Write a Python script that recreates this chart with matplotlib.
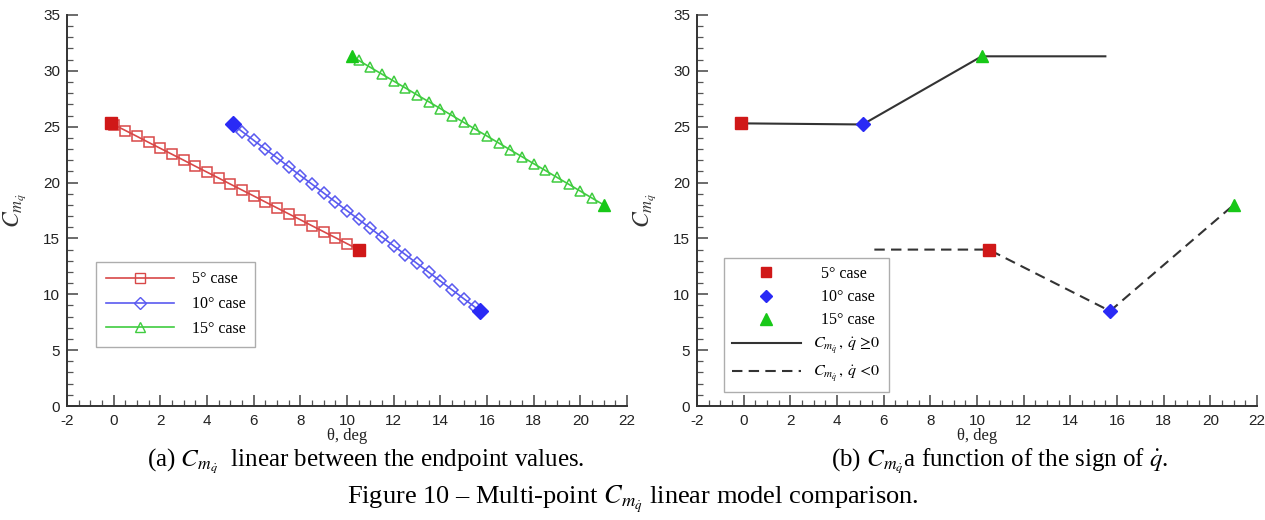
import matplotlib
matplotlib.use("Agg")
import matplotlib.pyplot as plt
from matplotlib.ticker import MultipleLocator
from matplotlib.lines import Line2D

plt.rcParams['mathtext.fontset'] = 'stix'
plt.rcParams['axes.unicode_minus'] = False

# ---------------- data ----------------
# (a) linear between endpoint values
red_end_theta = [-0.1, 10.5]
red_end_cmq = [25.3, 14.0]
red_theta = [0.0, 0.5, 1.0, 1.5, 2.0, 2.5, 3.0, 3.5, 4.0, 4.5, 5.0, 5.5, 6.0, 6.5,
             7.0, 7.5, 8.0, 8.5, 9.0, 9.5, 10.0]
red_cmq = [25.19, 24.66, 24.13, 23.59, 23.06, 22.53, 22.00, 21.46, 20.93, 20.40,
           19.86, 19.33, 18.80, 18.26, 17.73, 17.20, 16.67, 16.13, 15.60, 15.07, 14.53]

blue_end_theta = [5.1, 15.7]
blue_end_cmq = [25.2, 8.5]
blue_theta = [5.5, 6.0, 6.5, 7.0, 7.5, 8.0, 8.5, 9.0, 9.5, 10.0, 10.5, 11.0, 11.5,
              12.0, 12.5, 13.0, 13.5, 14.0, 14.5, 15.0, 15.5]
blue_cmq = [24.57, 23.78, 22.99, 22.21, 21.42, 20.63, 19.85, 19.06, 18.27, 17.48,
            16.70, 15.91, 15.12, 14.33, 13.55, 12.76, 11.97, 11.19, 10.40, 9.61, 8.82]

green_end_theta = [10.2, 21.0]
green_end_cmq = [31.3, 18.0]
green_theta = [10.5, 11.0, 11.5, 12.0, 12.5, 13.0, 13.5, 14.0, 14.5, 15.0, 15.5,
               16.0, 16.5, 17.0, 17.5, 18.0, 18.5, 19.0, 19.5, 20.0, 20.5]
green_cmq = [30.93, 30.31, 29.70, 29.08, 28.47, 27.85, 27.24, 26.62, 26.00, 25.39,
             24.77, 24.16, 23.54, 22.92, 22.31, 21.69, 21.08, 20.46, 19.85, 19.23, 18.61]

# (b) function of the sign of q-dot
pos_theta = [-0.1, 5.1, 10.2, 15.5]
pos_cmq = [25.3, 25.2, 31.3, 31.3]
neg_theta = [5.6, 10.5, 15.7, 21.0]
neg_cmq = [14.0, 14.0, 8.5, 18.0]

case_labels = ['5° case', '10° case', '15° case']
pos_label = r'$C_{m_{\dot{q}}}\,,\,\dot{q}\,\geq\!0$'
neg_label = r'$C_{m_{\dot{q}}}\,,\,\dot{q}\,<\!0$'

xticks = [-2, 0, 2, 4, 6, 8, 10, 12, 14, 16, 18, 20, 22]
yticks = [0, 5, 10, 15, 20, 25, 30, 35]

# ---------------- style ----------------
c_red, c_blue, c_green = '#d01818', '#2a2af5', '#18c818'
l_red, l_blue, l_green = '#d84848', '#5a5af0', '#40cc40'

fig = plt.figure(figsize=(12.65, 5.2), dpi=100)
ax1 = fig.add_axes([0.053, 0.2192, 0.4427, 0.752])
ax2 = fig.add_axes([0.551, 0.2192, 0.4427, 0.752])

def style_axes(ax):
    ax.set_xlim(-2, 22)
    ax.set_ylim(0, 35)
    ax.set_xticks(xticks)
    ax.set_yticks(yticks)
    ax.xaxis.set_minor_locator(MultipleLocator(0.5))
    ax.yaxis.set_minor_locator(MultipleLocator(1))
    for s in ['top', 'right']:
        ax.spines[s].set_visible(False)
    for s in ['left', 'bottom']:
        ax.spines[s].set_linewidth(1.4)
        ax.spines[s].set_color('#333333')
    ax.tick_params(which='major', direction='in', length=8, width=1.1,
                   color='#444444', labelsize=11)
    ax.tick_params(axis='x', which='major', pad=6)
    ax.tick_params(axis='y', which='major', pad=5)
    ax.tick_params(which='minor', direction='in', length=4, width=0.9,
                   color='#555555')
    for lab in ax.get_xticklabels() + ax.get_yticklabels():
        lab.set_fontfamily('Liberation Sans')
        lab.set_color('#222222')
    ax.set_xlabel('θ, deg', fontfamily='Liberation Serif', fontsize=12,
                  color='#222222', labelpad=0)
    ax.set_ylabel(r'$C_{m_{\dot{q}}}$', fontsize=17, color='#333333', labelpad=10)
    ax.patch.set_alpha(0)

style_axes(ax1)
style_axes(ax2)

# (a)
for th, cm, eth, ecm, mk, lc, fc, ms in [
        (red_theta, red_cmq, red_end_theta, red_end_cmq, 's', l_red, c_red, 6.5),
        (blue_theta, blue_cmq, blue_end_theta, blue_end_cmq, 'D', l_blue, c_blue, 6.0),
        (green_theta, green_cmq, green_end_theta, green_end_cmq, '^', l_green, c_green, 7.0)]:
    ax1.plot([eth[0]] + th + [eth[1]], [ecm[0]] + cm + [ecm[1]], '-', color=lc, lw=1.2)
    ax1.plot(th, cm, linestyle='none', marker=mk, mfc='none', mec=lc, mew=1.1, ms=ms)
    ax1.plot(eth, ecm, linestyle='none', marker=mk, color=fc, ms=ms + 2)

h1 = [Line2D([], [], color=l_red, lw=1.2, marker='s', mfc='none', mec=l_red, ms=6.5),
      Line2D([], [], color=l_blue, lw=1.2, marker='D', mfc='none', mec=l_blue, ms=6.0),
      Line2D([], [], color=l_green, lw=1.2, marker='^', mfc='none', mec=l_green, ms=7.0)]
leg1 = ax1.legend(h1, case_labels, loc='lower left', bbox_to_anchor=(0.052, 0.152),
                  prop={'family': 'Liberation Serif', 'size': 11.5}, frameon=True,
                  fancybox=False, edgecolor='#999999', handlelength=4.3,
                  handletextpad=1.1, labelspacing=0.55, borderpad=0.6,
                  borderaxespad=0)
leg1.get_frame().set_linewidth(1.0)

# (b)
ax2.plot(pos_theta, pos_cmq, '-', color='#333333', lw=1.5)
ax2.plot(neg_theta, neg_cmq, '--', color='#333333', lw=1.5, dashes=(5, 3))
ax2.plot([pos_theta[0]], [pos_cmq[0]], 's', color=c_red, ms=8.5)
ax2.plot([pos_theta[1]], [pos_cmq[1]], 'D', color=c_blue, ms=7.5)
ax2.plot([pos_theta[2]], [pos_cmq[2]], '^', color=c_green, ms=9)
ax2.plot([neg_theta[1]], [neg_cmq[1]], 's', color=c_red, ms=8.5)
ax2.plot([neg_theta[2]], [neg_cmq[2]], 'D', color=c_blue, ms=7.5)
ax2.plot([neg_theta[3]], [neg_cmq[3]], '^', color=c_green, ms=9)

h2 = [Line2D([], [], linestyle='none', marker='s', color=c_red, ms=7.5),
      Line2D([], [], linestyle='none', marker='D', color=c_blue, ms=6.5),
      Line2D([], [], linestyle='none', marker='^', color=c_green, ms=8),
      Line2D([], [], color='#333333', lw=1.5),
      Line2D([], [], color='#333333', lw=1.5, linestyle='--', dashes=(5, 3))]
leg2 = ax2.legend(h2, case_labels + [pos_label, neg_label], loc='lower left',
                  bbox_to_anchor=(0.048, 0.036),
                  prop={'family': 'Liberation Serif', 'size': 11.5}, frameon=True,
                  fancybox=False, edgecolor='#999999', handlelength=4.3,
                  handletextpad=0.8, labelspacing=0.45, borderpad=0.5,
                  borderaxespad=0)
leg2.get_frame().set_linewidth(1.0)
for t in leg2.get_texts()[:3]:
    t.set_x(8)

# captions
fig.text(0.289, 0.112, r'(a) $C_{m_{\dot{q}}}$  linear between the endpoint values.',
         ha='center', va='center', fontfamily='Liberation Serif', fontsize=18)
fig.text(0.79, 0.112, r'(b) $C_{m_{\dot{q}}}$a function of the sign of $\dot{q}$.',
         ha='center', va='center', fontfamily='Liberation Serif', fontsize=18)
fig.text(0.5, 0.04, r'Figure 10 – Multi-point $C_{m_{\dot{q}}}$ linear model comparison.',
         ha='center', va='center', fontfamily='Liberation Serif', fontsize=19)

fig.savefig('out.png', dpi=100)
